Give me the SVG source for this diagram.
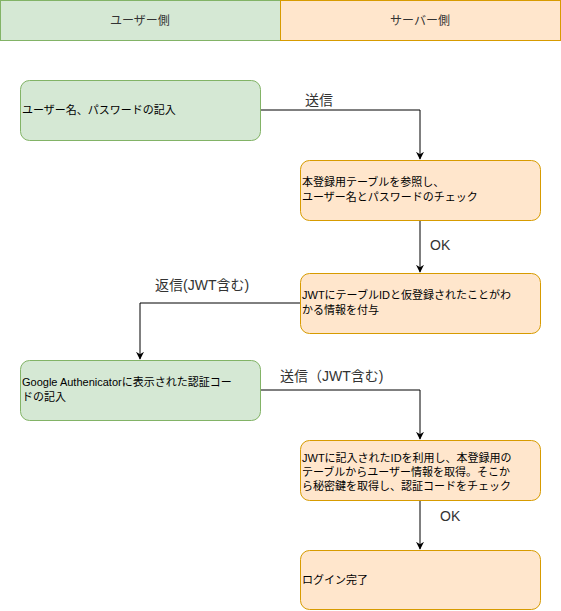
<svg xmlns="http://www.w3.org/2000/svg" width="561" height="611" viewBox="0 0 561 611">
<style>
.g{fill:#d5e8d4;stroke:#82b366;stroke-width:1}
.o{fill:#ffe6cc;stroke:#d79b00;stroke-width:1}
.t{font-family:"Liberation Sans","Noto Sans CJK JP",sans-serif;font-size:11px;fill:#000}
.h{font-family:"Liberation Sans","Noto Sans CJK JP",sans-serif;font-size:12px;fill:#333;text-anchor:middle}
.l{font-family:"Liberation Sans","Noto Sans CJK JP",sans-serif;font-size:14px;fill:#333}
.c{fill:none;stroke:#000;stroke-width:1}
</style>
<defs>
<marker id="a" viewBox="0 0 10 10" refX="9" refY="5" markerWidth="8" markerHeight="8" markerUnits="userSpaceOnUse" orient="auto">
<path d="M0,0 L10,5 L0,10 L3,5 Z" fill="#000"/>
</marker>
</defs>
<g id="header-user"><rect class="g" x="0.5" y="0.5" width="280" height="40"/><text class="h" x="140" y="24.5">ユーザー側</text></g>
<g id="header-server"><rect class="o" x="280.5" y="0.5" width="280" height="40"/><text class="h" x="420" y="24.5">サーバー側</text></g>
<g id="connectors">
<path class="c" d="M260,110 H420 V159" marker-end="url(#a)"/>
<path class="c" d="M420,220 V272" marker-end="url(#a)"/>
<path class="c" d="M300,303 H140 V359" marker-end="url(#a)"/>
<path class="c" d="M260,390 H420 V439" marker-end="url(#a)"/>
<path class="c" d="M420,500 V549" marker-end="url(#a)"/>
<text class="l" x="305" y="105">送信</text>
<text class="l" x="430" y="250">OK</text>
<text class="l" x="155" y="290">返信(JWT含む)</text>
<text class="l" x="280" y="381">送信（JWT含む)</text>
<text class="l" x="440" y="521">OK</text>
</g>
<g id="n1"><rect class="g" x="20.5" y="80.5" width="240" height="60" rx="9"/><text class="t" x="22" y="114">ユーザー名、パスワードの記入</text></g>
<g id="n2"><rect class="o" x="300.5" y="160.5" width="240" height="60" rx="9"/><text class="t" x="302" y="186">本登録用テーブルを参照し、</text><text class="t" x="302" y="201">ユーザー名とパスワードのチェック</text></g>
<g id="n3"><rect class="o" x="300.5" y="273.5" width="240" height="60" rx="9"/><text class="t" x="302" y="299">JWTにテーブルIDと仮登録されたことがわ</text><text class="t" x="302" y="314">かる情報を付与</text></g>
<g id="n4"><rect class="g" x="20.5" y="360.5" width="240" height="60" rx="9"/><text class="t" x="22" y="386">Google Authenicatorに表示された認証コー</text><text class="t" x="22" y="401">ドの記入</text></g>
<g id="n5"><rect class="o" x="300.5" y="440.5" width="240" height="60" rx="9"/><text class="t" x="302" y="462">JWTに記入されたIDを利用し、本登録用の</text><text class="t" x="302" y="476">テーブルからユーザー情報を取得。そこか</text><text class="t" x="302" y="490">ら秘密鍵を取得し、認証コードをチェック</text></g>
<g id="n6"><rect class="o" x="300.5" y="550.5" width="240" height="59" rx="9"/><text class="t" x="302" y="584">ログイン完了</text></g>
</svg>
